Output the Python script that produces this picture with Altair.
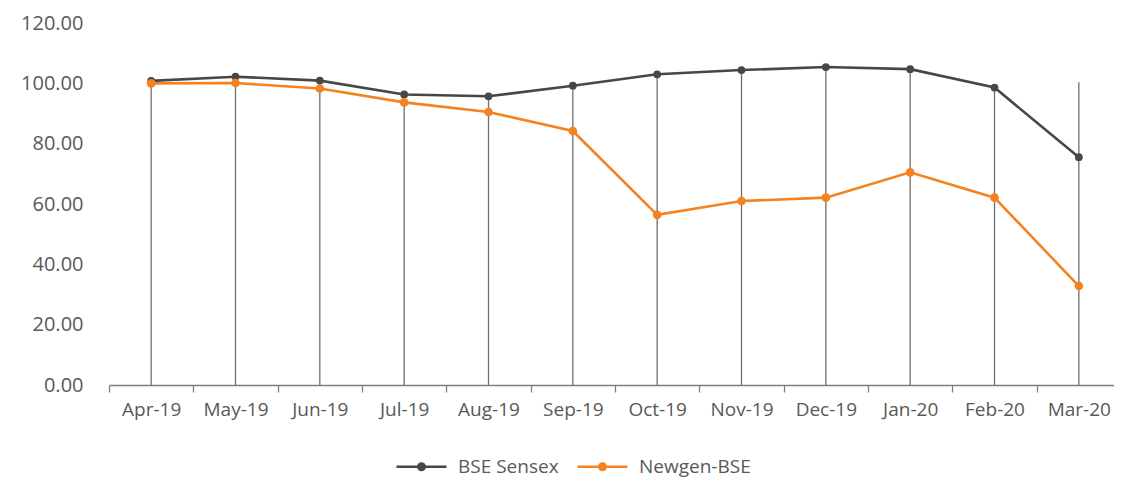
import altair as alt
import pandas as pd

months = ["Apr-19", "May-19", "Jun-19", "Jul-19", "Aug-19", "Sep-19",
          "Oct-19", "Nov-19", "Dec-19", "Jan-20", "Feb-20", "Mar-20"]
bse_sensex = [100.8, 102.2, 100.9, 96.3, 95.7, 99.2, 103.0, 104.4, 105.4, 104.7, 98.6, 75.5]
newgen_bse = [100.0, 100.1, 98.3, 93.7, 90.5, 84.2, 56.4, 61.0, 62.1, 70.5, 62.1, 32.8]
drop_line_top = [100.8, 102.2, 100.9, 96.3, 95.7, 99.2, 103.0, 104.4, 105.4, 104.7, 98.6, 100.4]
series_names = ["BSE Sensex", "Newgen-BSE"]
series_colors = ["#474747", "#F5821F"]

rows = []
for m, a, b in zip(months, bse_sensex, newgen_bse):
    rows.append({"month": m, "series": series_names[0], "value": a})
    rows.append({"month": m, "series": series_names[1], "value": b})
df = pd.DataFrame(rows)
drops = pd.DataFrame({"month": months, "top": drop_line_top, "zero": [0] * len(months)})

FONT = "Open Sans"
TXT = "#595959"

x_scale = alt.Scale(paddingInner=0, paddingOuter=0, range=[0, 1012])
x_enc = alt.X("month:N", sort=months, title=None, scale=x_scale,
              axis=alt.Axis(tickBand="extent", labelAngle=0, labelFontSize=19,
                            labelColor=TXT, labelFont=FONT, domainColor="#7F7F7F",
                            tickColor="#7F7F7F", tickSize=7, labelPadding=8,
                            domainWidth=1.3, tickWidth=1.3, grid=False))

y_scale = alt.Scale(domain=[0, 120])
y_axis = alt.Axis(values=[0, 20, 40, 60, 80, 100, 120], format=".2f", domain=False,
                  ticks=False, grid=False, labelFontSize=20, labelColor=TXT,
                  labelFont=FONT, labelPadding=26)

color = alt.Color("series:N", sort=series_names,
                  scale=alt.Scale(domain=series_names, range=series_colors),
                  legend=alt.Legend(title=None, orient="none", direction="horizontal",
                                    legendX=286, legendY=417,
                                    symbolType="M-1,0H1M-0.13,0A0.13,0.13,0,1,0,0.13,0A0.13,0.13,0,1,0,-0.13,0Z",
                                    symbolSize=2500, symbolStrokeWidth=2.5,
                                    labelFontSize=19, labelColor=TXT, labelFont=FONT,
                                    labelOffset=10, columnPadding=13))

rules = alt.Chart(drops).mark_rule(color="#6E6E6E", strokeWidth=1.3).encode(
    x=x_enc,
    y=alt.Y("zero:Q", scale=y_scale, axis=y_axis, title=None),
    y2="top:Q",
)

base = alt.Chart(df).encode(
    x=alt.X("month:N", sort=months),
    y=alt.Y("value:Q", scale=y_scale),
    color=color,
)

line_gray = base.transform_filter(alt.datum.series == series_names[0]).mark_line(strokeWidth=2.6)
pts_gray = base.transform_filter(alt.datum.series == series_names[0]).mark_point(
    filled=True, size=60, opacity=1)
line_or = base.transform_filter(alt.datum.series == series_names[1]).mark_line(strokeWidth=2.6)
pts_or = base.transform_filter(alt.datum.series == series_names[1]).mark_point(
    filled=True, size=75, opacity=1)

chart = alt.layer(rules, line_gray, pts_gray, line_or, pts_or).properties(
    width=1005, height=362,
    background="white",
    autosize=alt.AutoSizeParams(type="none"),
    padding={"left": 101, "top": 15, "right": 0, "bottom": 94},
).configure_view(stroke=None)

chart.save("out.html", embed_options={"renderer": "svg", "actions": False})
